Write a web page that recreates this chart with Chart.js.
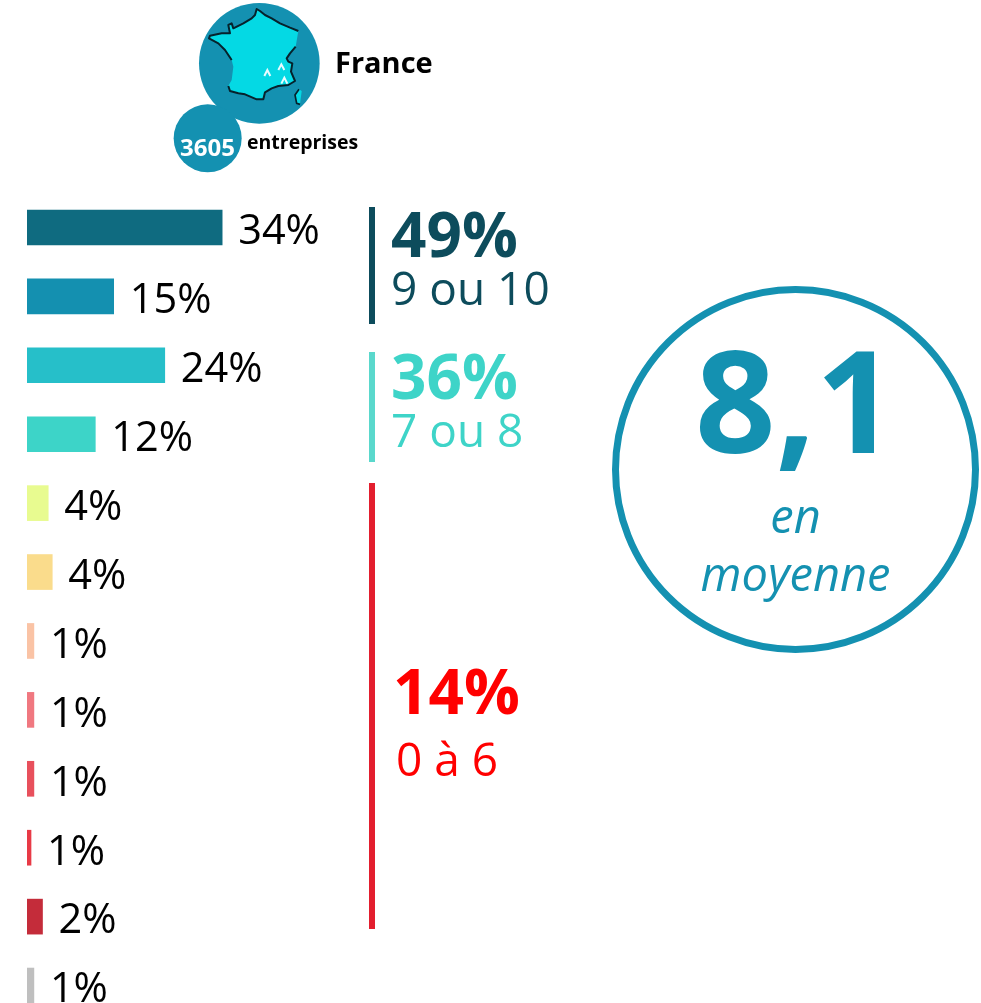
<!DOCTYPE html>
<html>
<head>
<meta charset="utf-8">
<title>France</title>
<script src="https://cdn.jsdelivr.net/npm/chart.js@4"></script>
<style>
  html, body { margin: 0; padding: 0; background: #fff; overflow: hidden; }
  #page { position: relative; width: 981px; height: 1003px; overflow: hidden; font-family: "Open Sans", sans-serif; }
  #myChart { position: absolute; left: 0; top: 0; }
  .t { position: absolute; white-space: nowrap; line-height: 1; }
  .line { position: absolute; width: 6px; }
  #icon { position: absolute; left: 160px; top: 0; }
  #score { position: absolute; left: 612px; top: 286px; width: 353px; height: 353px; border: 7px solid #1491b1; border-radius: 50%; }
</style>
</head>
<body>
<div id="page">
  <canvas id="myChart" width="981" height="1040"></canvas>

  <svg id="icon" width="290" height="180" viewBox="0 0 870 540">
    <circle cx="298" cy="190" r="181" fill="#1491b1"/>
    <circle cx="143" cy="415" r="102" fill="#1491b1"/>
    <g transform="translate(135,15)">
      <path d="M155 12 L165 18 L180 30 L200 40 L225 55 L255 68 L280 78 L272 125 L255 145 L245 160 L250 170 L262 175 L258 200 L270 228 L250 240 L220 243 L200 250 L180 262 L175 283 L155 283 L120 268 L100 265 L75 258 L70 243 L80 225 L85 185 L80 165 L60 135 L40 115 L12 100 L15 92 L50 85 L75 85 L70 60 L80 55 L85 70 L115 55 L140 40 L150 30 Z" fill="#04d9e4"/>
      <path d="M80 165 L60 135 L40 115 L12 100 L15 92 L50 85 L75 85 L70 60 L80 55 L85 70 L115 55 L140 40 L150 30 L155 12 L165 18 L180 30 L200 40 L225 55 L255 68 L280 78 M272 125 L255 145 L245 160 L250 170 L262 175 L258 200 L270 228 L250 240 L220 243 L200 250 L180 262 L175 283 L155 283 L120 268 L100 265 L75 258 L70 243" fill="none" stroke="#06222c" stroke-width="6" stroke-linejoin="round"/>
      <path d="M282 253 L270 270 L275 295 L285 298 L290 258 Z" fill="#04d9e4"/>
      <path d="M282 253 L270 270 L275 295 L285 298" fill="none" stroke="#06222c" stroke-width="5"/>
      <path d="M178 213 L187 195 L196 213 M220 195 L229 178 L238 195 M229 236 L238 218 L247 236" fill="none" stroke="#e8fbff" stroke-width="6"/>
    </g>
  </svg>
  <div class="t" style="left:335px;top:47px;font-size:29px;font-weight:700;color:#000">France</div>
  <div class="t" style="left:247px;top:132px;font-size:19.5px;font-weight:700;color:#000">entreprises</div>
  <div class="t" style="left:180px;top:135px;font-size:24px;font-weight:700;color:#fff">3605</div>

  <div class="line" style="left:369px;top:207px;height:117px;background:#0d4c5c"></div>
  <div class="t" style="left:391px;top:202px;font-size:62px;font-weight:700;color:#0d4c5c">49%</div>
  <div class="t" style="left:391px;top:264px;font-size:46px;color:#0d4c5c">9 ou 10</div>

  <div class="line" style="left:369px;top:352px;height:110px;background:#5ad8cc"></div>
  <div class="t" style="left:391px;top:344px;font-size:62px;font-weight:700;color:#3ed4c8">36%</div>
  <div class="t" style="left:391px;top:406px;font-size:46px;color:#3ed4c8">7 ou 8</div>

  <div class="line" style="left:369px;top:483px;height:446px;background:#e31e2e"></div>
  <div class="t" style="left:393px;top:659px;font-size:62px;font-weight:700;color:#ff0000">14%</div>
  <div class="t" style="left:396px;top:735px;font-size:46px;color:#ff0000">0 à 6</div>

  <div id="score"></div>
  <div class="t" style="left:695px;top:328px;font-size:141px;font-weight:700;color:#1491b1">8,1</div>
  <div class="t" style="left:612px;width:367px;text-align:center;top:492px;font-size:47px;font-style:italic;color:#1491b1">en</div>
  <div class="t" style="left:612px;width:367px;text-align:center;top:550px;font-size:47px;font-style:italic;color:#1491b1">moyenne</div>
</div>

<script>
const ctx = document.getElementById('myChart');

const categories = ['10', '9', '8', '7', '6', '5', '4', '3', '2', '1', '0', 'NSP'];
const pctLabels = ['34%', '15%', '24%', '12%', '4%', '4%', '1%', '1%', '1%', '1%', '2%', '1%'];
const values = [34, 15.1, 24, 11.9, 3.7, 4.4, 1.2, 1.2, 1.2, 0.7, 2.7, 1.2];
const colors = ['#0f6b80', '#1490b0', '#26bfc9', '#3dd4c8', '#e8fb90', '#fadc8c',
  '#fac3a5', '#f07880', '#e8505c', '#e83a46', '#c42c3a', '#bfbfbf'];

// text next to each bar
const barText = {
  id: 'barText',
  afterDatasetsDraw(chart) {
    const c = chart.ctx;
    const bars = chart.getDatasetMeta(0).data;
    c.save();
    c.font = '41.5px "Open Sans"';
    c.fillStyle = '#000';
    c.textBaseline = 'middle';
    bars.forEach((b, i) => {
      c.fillText(pctLabels[i], b.x + 16, b.y + 5);
    });
    c.restore();
  }
};

new Chart(ctx, {
  type: 'bar',
  data: {
    labels: categories,
    datasets: [{
      data: values,
      backgroundColor: colors,
      barThickness: 35
    }]
  },
  options: {
    indexAxis: 'y',
    responsive: false,
    animation: false,
    layout: { padding: { left: 27, top: 193, right: 380, bottom: 20 } },
    plugins: { legend: { display: false }, tooltip: { enabled: false } },
    scales: {
      x: { display: false, min: 0, max: 100 },
      y: { display: false }
    }
  },
  plugins: [barText]
});
</script>
</body>
</html>
